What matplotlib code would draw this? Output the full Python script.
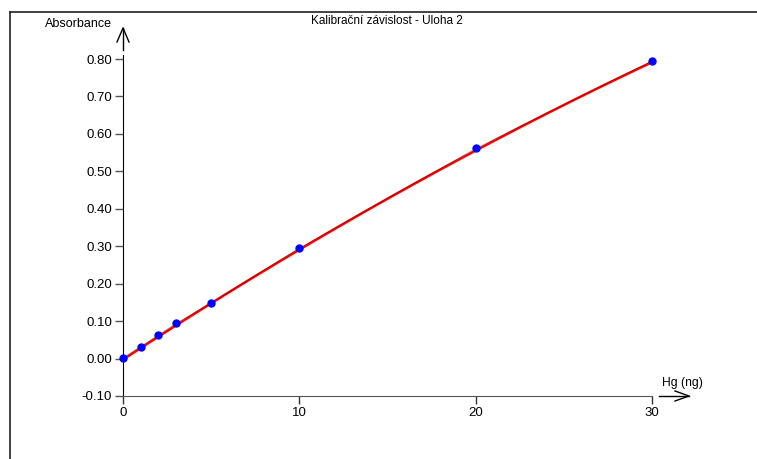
import numpy as np
import matplotlib.pyplot as plt
from matplotlib.lines import Line2D

plt.rcParams["font.family"] = ["Liberation Sans", "DejaVu Sans"]

# calibration data
hg_ng = [0, 1, 2, 3, 5, 10, 20, 30]
absorbance = [0.002, 0.032, 0.063, 0.094, 0.148, 0.295, 0.561, 0.795]
y_ticks = [-0.10, 0.00, 0.10, 0.20, 0.30, 0.40, 0.50, 0.60, 0.70, 0.80]
x_ticks = [0, 10, 20, 30]

W, H = 757, 459
fig = plt.figure(figsize=(W / 100, H / 100), dpi=100)

# axes placed so that x 0..30 -> px 123..652 and y -0.1..0.8 -> px 396..59
x0, x1 = 123, 652
ytop, ybot = 59, 396
ax = fig.add_axes([x0 / W, 1 - ybot / H, (x1 - x0) / W, (ybot - ytop) / H])
ax.set_xlim(0, 30)
ax.set_ylim(-0.10, 0.80)

for s in ["top", "right"]:
    ax.spines[s].set_visible(False)
ax.spines["left"].set_color("black")
ax.spines["left"].set_bounds(-0.10, 0.81)
ax.spines["bottom"].set_color("#555555")

ax.set_xticks(x_ticks)
ax.set_yticks(y_ticks)
ax.set_yticklabels(["%.2f" % v for v in y_ticks])
ax.tick_params(axis="y", length=6, width=1, color="#555555", labelsize=9.5, pad=2)
ax.tick_params(axis="x", length=6, width=1, color="#333333", labelsize=9.5, pad=2)

# quadratic calibration fit
coef = np.polyfit(hg_ng, absorbance, 2)
xs = np.linspace(0, 30, 200)
ax.plot(xs, np.polyval(coef, xs) - 0.004, color="red", lw=1.8, zorder=3, clip_on=False)
ax.plot(hg_ng, absorbance, color="black", lw=0.6, alpha=0.3, zorder=4)
ax.plot(hg_ng, absorbance, "o", color="blue", ms=5, zorder=5, clip_on=False)

# axis arrows
px_x = 30 / (x1 - x0)
px_y = 0.9 / (ybot - ytop)
ax.plot([0, 0], [0.80 + 9 * px_y, 0.80 + 31 * px_y], color="black", lw=1, clip_on=False)
ax.plot([-6 * px_x, 0, 6 * px_x], [0.80 + 17 * px_y, 0.80 + 31 * px_y, 0.80 + 17 * px_y],
        color="black", lw=1, clip_on=False)
ax.plot([30 + 7 * px_x, 30 + 37 * px_x], [-0.10, -0.10], color="black", lw=1, clip_on=False)
ax.plot([30 + 23 * px_x, 30 + 37 * px_x, 30 + 23 * px_x],
        [-0.10 + 5 * px_y, -0.10, -0.10 - 5 * px_y], color="black", lw=1, clip_on=False)

ax.text(30 + 30 * px_x, -0.10 + 13 * px_y, "Hg (ng)", ha="center", va="center",
        fontsize=8.7, clip_on=False)
fig.text(112 / W, 1 - 24 / H, "Absorbance", ha="right", va="center", fontsize=9)
fig.text(387 / W, 1 - 21 / H, "Kalibrační závislost - Uloha 2", ha="center", va="center",
         fontsize=8.5)

# outer frame (left and top)
fig.add_artist(Line2D([10 / W, 10 / W], [0, 1 - 12 / H], color="#222222", lw=1.2))
fig.add_artist(Line2D([10 / W, 1], [1 - 12 / H, 1 - 12 / H], color="#222222", lw=1.2))

fig.savefig("out.png", dpi=100)
